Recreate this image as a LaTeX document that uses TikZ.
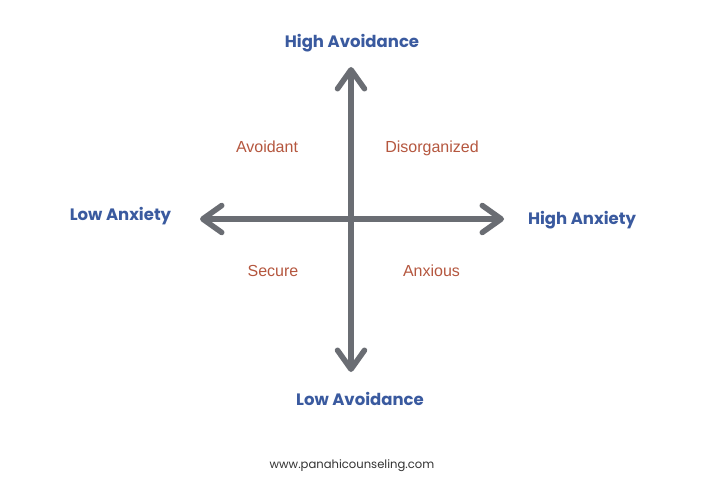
\documentclass[tikz,border=0pt]{standalone}
\usepackage{fontspec}
\setmainfont{Liberation Sans}
\newfontfamily\popb[Scale=1]{Poppins}
\usetikzlibrary{arrows.meta}
\definecolor{axisgray}{HTML}{6A6D73}
\definecolor{labblue}{HTML}{3A5A9F}
\definecolor{quadred}{HTML}{B5573F}
\definecolor{urlgray}{HTML}{333333}
\tikzset{
  axisline/.style={draw=axisgray, line width=5.5pt, line cap=round,
    arrows={Straight Barb[length=19pt, width=27pt, round]-Straight Barb[length=19pt, width=27pt, round]}},
  axislabel/.style={text=labblue, font=\popb\bfseries\fontsize{16.5}{18}\selectfont, anchor=base, inner sep=0pt},
  quadlabel/.style={text=quadred, font=\fontsize{16}{18}\selectfont, anchor=base, inner sep=0pt},
  urllabel/.style={text=urlgray, font=\popb\fontsize{11.6}{13}\selectfont, anchor=base, inner sep=0pt}
}
\begin{document}
\begin{tikzpicture}[x=1pt,y=-1pt]
\useasboundingbox[fill=white] (0,0) rectangle (719,489);
\coordinate (L) at (200,219);
\coordinate (R) at (504,219);
\coordinate (T) at (351,67);
\coordinate (B) at (351,372);
\draw[axisline] (L) -- (R);
\draw[axisline] (B) -- (T);
\node[axislabel] (ha) at (352,48) {High Avoidance};
\node[axislabel] (la) at (360,405) {Low Avoidance};
\node[axislabel] (lx) at (120.5,220) {Low Anxiety};
\node[axislabel] (hx) at (582,224) {High Anxiety};
\node[quadlabel] (q1) at (267,153) {Avoidant};
\node[quadlabel] (q2) at (432,153) {Disorganized};
\node[quadlabel] (q3) at (273,276) {Secure};
\node[quadlabel] (q4) at (431.5,276) {Anxious};
\node[urllabel] (url) at (352,468) {www.panahicounseling.com};
\end{tikzpicture}
\end{document}
